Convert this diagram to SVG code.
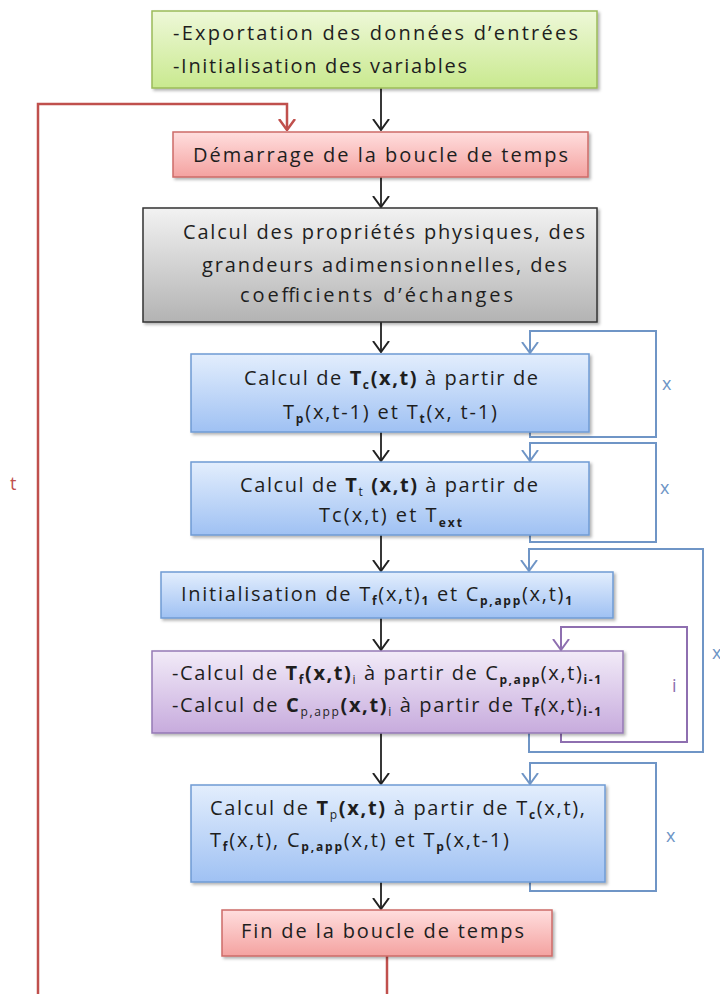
<svg xmlns="http://www.w3.org/2000/svg" width="720" height="994" viewBox="0 0 720 994">
<style>
  text { font-family: "Open Sans", "Liberation Sans", sans-serif; font-size: 20px; fill: #1e1e1e; }
  .b { font-weight: bold; }
  .s { font-size: 12px; }
  .box { stroke-width: 1.5; filter: url(#sh); }
  .blk { fill: none; stroke: #222; stroke-width: 1.8; marker-end: url(#mk); }
  .red { fill: none; stroke: #c0504d; stroke-width: 2.5; }
  .blu { fill: none; stroke: #6f95c6; stroke-width: 2; }
  .pur { fill: none; stroke: #8e6fb0; stroke-width: 2; }
  .lx { fill: #6f95c6; font-size: 18px; }
  .li { fill: #8e6fb0; font-size: 18px; }
  .lt { fill: #c0504d; font-size: 18px; }
</style>
<defs>
  <filter id="sh" x="-5%" y="-10%" width="110%" height="130%">
    <feDropShadow dx="2" dy="2" stdDeviation="1.5" flood-color="#000" flood-opacity="0.3"/>
  </filter>
  <linearGradient id="gG" x1="0" y1="0" x2="0" y2="1"><stop offset="0" stop-color="#eef8d8"/><stop offset="1" stop-color="#c9e98f"/></linearGradient>
  <linearGradient id="gR" x1="0" y1="0" x2="0" y2="1"><stop offset="0" stop-color="#ffdede"/><stop offset="1" stop-color="#f4a2a0"/></linearGradient>
  <linearGradient id="gK" x1="0" y1="0" x2="0" y2="1"><stop offset="0" stop-color="#f2f2f2"/><stop offset="1" stop-color="#b3b3b3"/></linearGradient>
  <linearGradient id="gB" x1="0" y1="0" x2="0" y2="1"><stop offset="0" stop-color="#e3eefd"/><stop offset="1" stop-color="#9fc1f3"/></linearGradient>
  <linearGradient id="gP" x1="0" y1="0" x2="0" y2="1"><stop offset="0" stop-color="#f2ebf8"/><stop offset="1" stop-color="#c7abdd"/></linearGradient>
  <marker id="mk" viewBox="0 0 12 18" refX="11" refY="9" markerWidth="12" markerHeight="18" markerUnits="userSpaceOnUse" orient="auto">
    <path d="M0,1 L11,9 L0,17" fill="none" stroke="#222" stroke-width="2"/>
  </marker>
  <marker id="mr" viewBox="0 0 12 18" refX="11" refY="9" markerWidth="12" markerHeight="18" markerUnits="userSpaceOnUse" orient="auto">
    <path d="M0,1 L11,9 L0,17" fill="none" stroke="#c0504d" stroke-width="2.5"/>
  </marker>
  <marker id="mb" viewBox="0 0 12 18" refX="11" refY="9" markerWidth="12" markerHeight="18" markerUnits="userSpaceOnUse" orient="auto">
    <path d="M0,1 L11,9 L0,17" fill="none" stroke="#6f95c6" stroke-width="2"/>
  </marker>
  <marker id="mp" viewBox="0 0 12 18" refX="11" refY="9" markerWidth="12" markerHeight="18" markerUnits="userSpaceOnUse" orient="auto">
    <path d="M0,1 L11,9 L0,17" fill="none" stroke="#8e6fb0" stroke-width="2"/>
  </marker>
</defs>

<g id="connectors">
  <path class="blk" d="M381,88 V130"/>
  <path class="blk" d="M381,177 V207"/>
  <path class="blk" d="M381,322 V352"/>
  <path class="blk" d="M381,432 V461"/>
  <path class="blk" d="M381,535 V571"/>
  <path class="blk" d="M381,618 V650"/>
  <path class="blk" d="M381,733 V784"/>
  <path class="blk" d="M381,882 V909"/>
  <path class="red" d="M387,956 V994"/>
  <path class="red" d="M38,994 V104 H287 V130" marker-end="url(#mr)"/>
  <path class="blu" d="M530,432 V437 H656 V331 H530 V353" marker-end="url(#mb)"/>
  <path class="blu" d="M530,535 V542 H656 V443 H530 V461" marker-end="url(#mb)"/>
  <path class="blu" d="M529,733 V752 H703 V549 H529 V571" marker-end="url(#mb)"/>
  <path class="pur" d="M561,733 V742 H687 V627 H561 V650" marker-end="url(#mp)"/>
  <path class="blu" d="M530,882 V891 H656 V763 H530 V784" marker-end="url(#mb)"/>
  <text class="lx" x="662" y="390">x</text>
  <text class="lx" x="660" y="494">x</text>
  <text class="lx" x="712" y="659">x</text>
  <text class="li" x="672" y="692">i</text>
  <text class="lx" x="666" y="842">x</text>
  <text class="lt" x="10" y="490">t</text>
</g>

<g id="n1">
  <rect class="box" x="152" y="11" width="445" height="77" fill="url(#gG)" stroke="#9bbb59"/>
  <text x="173" y="40" textLength="405" lengthAdjust="spacing">-Exportation des données  d’entrées</text>
  <text x="173" y="73" textLength="294" lengthAdjust="spacing">-Initialisation des variables</text>
</g>

<g id="n2">
  <rect class="box" x="173" y="132" width="415" height="45" fill="url(#gR)" stroke="#cd6b68"/>
  <text x="193" y="162" textLength="375" lengthAdjust="spacing">Démarrage de la boucle de temps</text>
</g>

<g id="n3">
  <rect class="box" x="143" y="208" width="454" height="114" fill="url(#gK)" stroke="#333"/>
  <text x="183" y="239" textLength="402" lengthAdjust="spacing">Calcul des propriétés physiques, des</text>
  <text x="202" y="272" textLength="365" lengthAdjust="spacing">grandeurs adimensionnelles, des</text>
  <text x="240" y="302" textLength="273" lengthAdjust="spacing">coefficients d’échanges</text>
</g>

<g id="n4">
  <rect class="box" x="191" y="354" width="398" height="78" fill="url(#gB)" stroke="#6f9bd4"/>
  <text x="244" y="385" textLength="294" lengthAdjust="spacing">Calcul de <tspan class="b">T</tspan><tspan class="s b" dy="4">c</tspan><tspan class="b" dy="-4">(x,t)</tspan> à partir de</text>
  <text x="283" y="419" textLength="214" lengthAdjust="spacing">T<tspan class="s b" dy="4">p</tspan><tspan dy="-4">(x,t-1) et T</tspan><tspan class="s b" dy="4">t</tspan><tspan dy="-4">(x, t-1)</tspan></text>
</g>

<g id="n5">
  <rect class="box" x="191" y="462" width="398" height="73" fill="url(#gB)" stroke="#6f9bd4"/>
  <text x="240" y="492" textLength="298" lengthAdjust="spacing">Calcul de <tspan class="b">T</tspan><tspan class="s" dy="4">t</tspan><tspan class="b" dy="-4"> (x,t)</tspan> à partir de</text>
  <text x="319" y="522" textLength="143" lengthAdjust="spacing">Tc(x,t) et T<tspan class="s b" dy="5">ext</tspan></text>
</g>

<g id="n6">
  <rect class="box" x="161" y="572" width="452" height="46" fill="url(#gB)" stroke="#6f9bd4"/>
  <text x="181" y="601" textLength="391" lengthAdjust="spacing">Initialisation de T<tspan class="s b" dy="4">f</tspan><tspan dy="-4">(x,t)</tspan><tspan class="s b" dy="4">1</tspan><tspan dy="-4"> et C</tspan><tspan class="s b" dy="4">p,app</tspan><tspan dy="-4">(x,t)</tspan><tspan class="s b" dy="4">1</tspan></text>
</g>

<g id="n7">
  <rect class="box" x="152" y="651" width="471" height="82" fill="url(#gP)" stroke="#9579b5"/>
  <text x="172" y="680" textLength="429" lengthAdjust="spacing">-Calcul de <tspan class="b">T</tspan><tspan class="s b" dy="4">f</tspan><tspan class="b" dy="-4">(x,t)</tspan><tspan class="s" dy="4">i</tspan><tspan dy="-4"> à partir de C</tspan><tspan class="s b" dy="4">p,app</tspan><tspan dy="-4">(x,t)</tspan><tspan class="s b" dy="4">i-1</tspan></text>
  <text x="172" y="712" textLength="429" lengthAdjust="spacing">-Calcul de <tspan class="b">C</tspan><tspan class="s" dy="4">p,app</tspan><tspan class="b" dy="-4">(x,t)</tspan><tspan class="s" dy="4">i</tspan><tspan dy="-4"> à partir de T</tspan><tspan class="s b" dy="4">f</tspan><tspan dy="-4">(x,t)</tspan><tspan class="s b" dy="4">i-1</tspan></text>
</g>

<g id="n8">
  <rect class="box" x="191" y="785" width="414" height="97" fill="url(#gB)" stroke="#6f9bd4"/>
  <text x="210" y="815" textLength="375" lengthAdjust="spacing">Calcul de <tspan class="b">T</tspan><tspan class="s" dy="4">p</tspan><tspan class="b" dy="-4">(x,t)</tspan> à partir de T<tspan class="s b" dy="4">c</tspan><tspan dy="-4">(x,t),</tspan></text>
  <text x="210" y="847" textLength="299" lengthAdjust="spacing">T<tspan class="s b" dy="4">f</tspan><tspan dy="-4">(x,t), C</tspan><tspan class="s b" dy="4">p,app</tspan><tspan dy="-4">(x,t) et T</tspan><tspan class="s b" dy="4">p</tspan><tspan dy="-4">(x,t-1)</tspan></text>
</g>

<g id="n9">
  <rect class="box" x="222" y="910" width="330" height="46" fill="url(#gR)" stroke="#cd6b68"/>
  <text x="241" y="938" textLength="283" lengthAdjust="spacing">Fin de la boucle de temps</text>
</g>
</svg>
